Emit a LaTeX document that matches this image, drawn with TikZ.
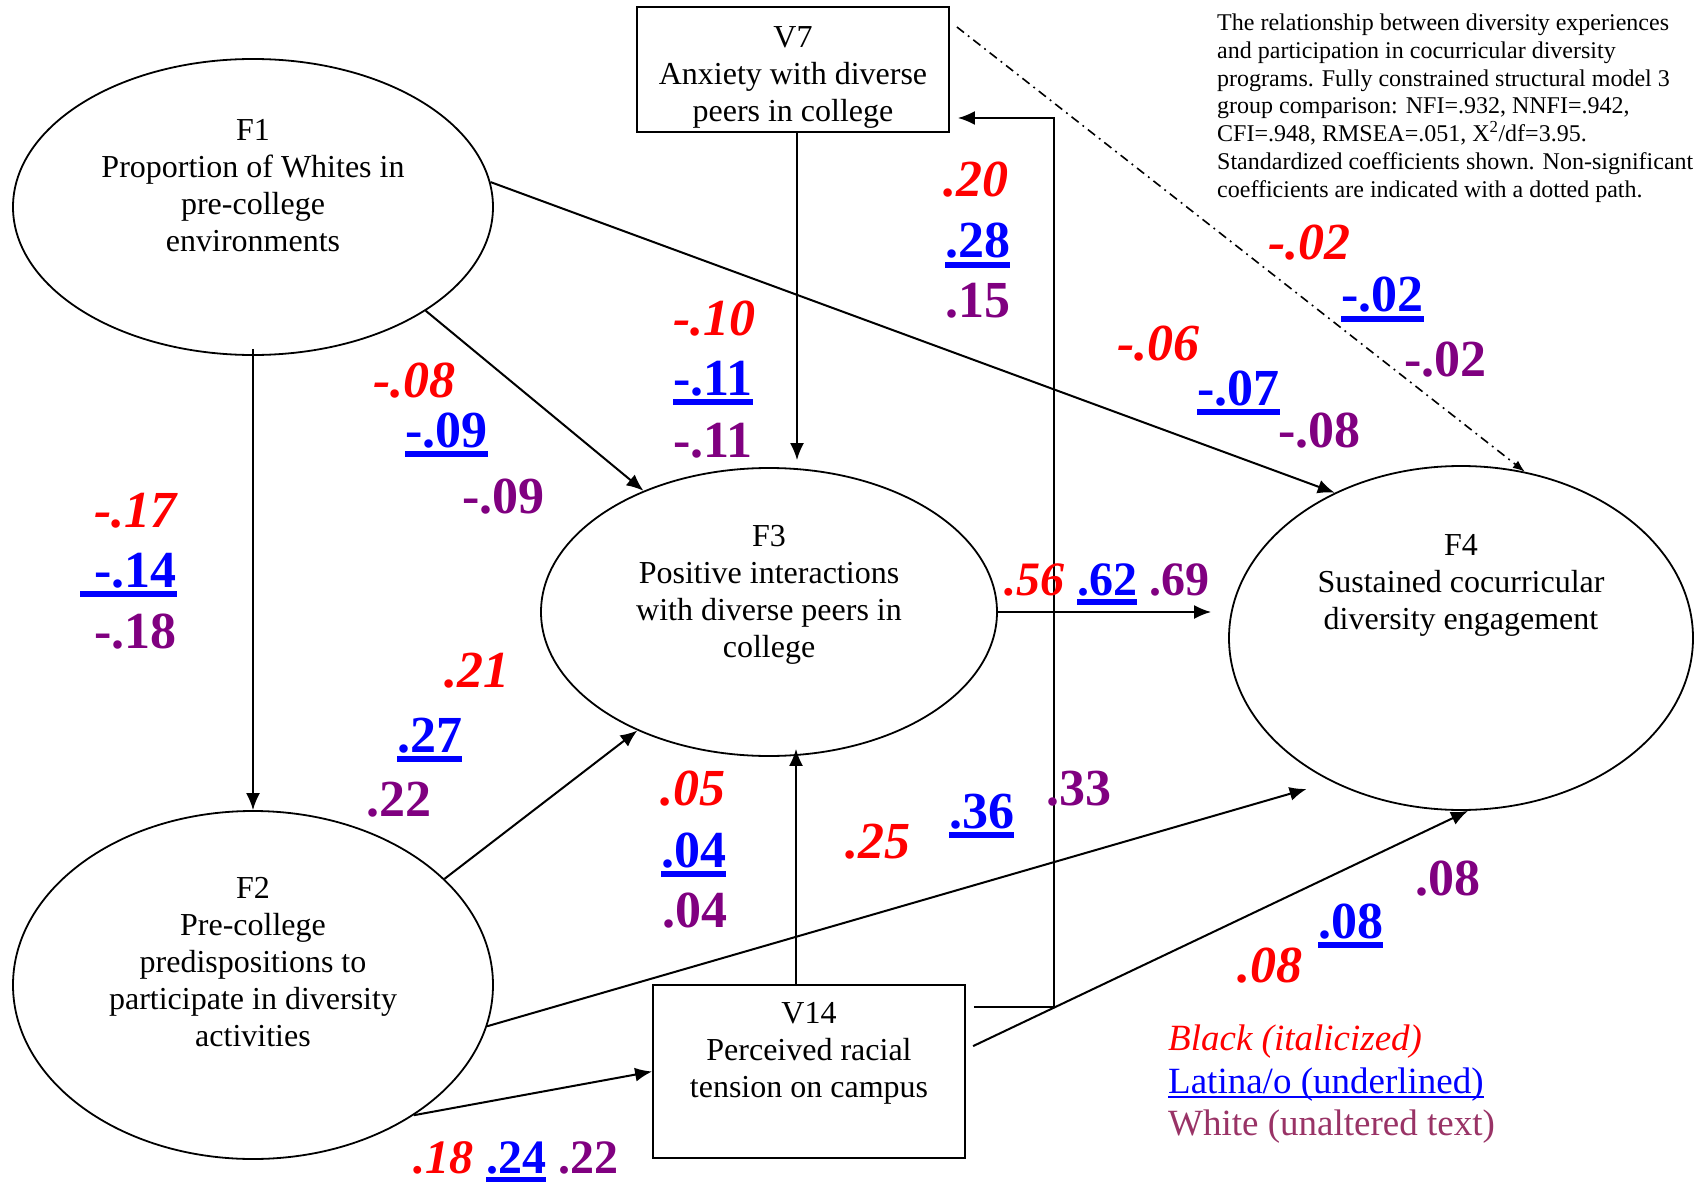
\documentclass[tikz,border=0pt]{standalone}
\usepackage{fontspec}
\setmainfont{Liberation Serif}
\usetikzlibrary{shapes.geometric,arrows.meta}
\definecolor{cred}{RGB}{255,0,0}
\definecolor{cblue}{RGB}{0,0,255}
\definecolor{cpurp}{RGB}{128,0,128}
\definecolor{cmauve}{RGB}{153,51,102}
\newcommand{\ulnum}[1]{\setbox0\hbox{#1}\rlap{\rule[-10pt]{\wd0}{6pt}}\box0}
\newcommand{\ulthin}[1]{\setbox0\hbox{#1}\rlap{\rule[-5pt]{\wd0}{2.2pt}}\box0}
\newcommand{\Bk}[1]{\textcolor{cred}{\textit{#1}}}
\newcommand{\La}[1]{\textcolor{cblue}{\ulnum{#1}}}
\newcommand{\Wh}[1]{\textcolor{cpurp}{#1}}
\begin{document}
\begin{tikzpicture}[x=1pt,y=-1pt,
  ell/.style={draw,ellipse,line width=1.8pt,inner sep=0pt},
  rbox/.style={draw,rectangle,line width=1.8pt,inner sep=0pt},
  ntxt/.style={align=center,inner sep=0pt,font=\fontsize{32}{37}\selectfont},
  conn/.style={line width=2pt,-{Latex[length=17pt,width=14pt]}},
  dconn/.style={line width=1.6pt,dash pattern=on 9pt off 5pt on 1.8pt off 5pt,-{Latex[length=12pt,width=9pt]}},
  big/.style={anchor=base west,inner sep=0pt,font=\fontsize{52}{60}\selectfont\bfseries},
  sml/.style={anchor=base west,inner sep=0pt,font=\fontsize{48}{55}\selectfont\bfseries},
  leg/.style={anchor=base west,inner sep=0pt,font=\fontsize{37}{42}\selectfont},
]
\fill[white] (0,0) rectangle (1703,1182);
\useasboundingbox (0,0) rectangle (1703,1182);

% shapes
\node[ell,minimum width=480pt,minimum height=296pt] (F1) at (253,207) {};
\node[ell,minimum width=480pt,minimum height=348pt] (F2) at (253,985) {};
\node[ell,minimum width=456pt,minimum height=288pt] (F3) at (769,612) {};
\node[ell,minimum width=464pt,minimum height=344pt] (F4) at (1461,638) {};
\node[rbox,minimum width=312pt,minimum height=125pt] (V7) at (793,69.5) {};
\node[rbox,minimum width=312pt,minimum height=173pt] (V14) at (809,1071.5) {};

% texts
\node[ntxt] (F1t) at (253,186) {F1\\Proportion of Whites in\\pre-college\\environments};
\node[ntxt] (F2t) at (253,962) {F2\\Pre-college\\predispositions to\\participate in diversity\\activities};
\node[ntxt] (F3t) at (769,595) {F3\\Positive interactions\\with diverse peers in\\college};
\node[ntxt] (F4t) at (1461,585) {F4\\Sustained cocurricular\\diversity engagement};
\node[ntxt] (V7t) at (793,77) {V7\\Anxiety with diverse\\peers in college};
\node[ntxt] (V14t) at (809,1053) {V14\\Perceived racial\\tension on campus};

% connectors
\draw[conn,shorten <=-7pt] (F1.south) -- (F2.north);
\draw[conn] (F1.-31) -- (F3.136);
\draw[conn] (F1.6) -- (F4.131);
\draw[conn] (F2.29.5) -- (F3.222);
\draw[conn,shorten >=26pt] (F2.-10) -- (F4.228.4);
\draw[conn] (F2.-39) -- (V14.west);
\draw[conn,shorten >=-8pt] ([xshift=-13pt]V14.north) -- ([xshift=-13pt]V14.north |- F3.south);
\draw[conn,shorten >=7pt] ([xshift=4pt]V7.south) -- ([xshift=4pt]V7.south |- F3.north);
\draw[conn,shorten >=17pt] (F3.east) -- (F3.east -| F4.west);
\draw[conn,shorten <=8pt] ([yshift=22pt]V14.east) -- ([xshift=7pt]F4.south);
\draw[conn,shorten <=8pt,shorten >=8pt] ([yshift=64.5pt]V14.east) -- ++(88,0) |- ([yshift=-48.5pt]V7.east);
\draw[dconn] ([yshift=42.5pt,xshift=7pt]V7.east) -- (F4.69.5);

% coefficient labels
\node[big] (a1) at (94,527) {\Bk{-.17}};
\node[big] (a2) at (80,587) {\La{\kern14pt-.14}};
\node[big] (a3) at (94,648) {\Wh{-.18}};

\node[big] (b1) at (373,397) {\Bk{-.08}};
\node[big] (b2) at (405,447) {\La{-.09}};
\node[big] (b3) at (462,513) {\Wh{-.09}};

\node[big] (c1) at (444,687) {\Bk{.21}};
\node[big] (c2) at (397,752) {\La{.27}};
\node[big] (c3) at (366,816) {\Wh{.22}};

\node[big] (d1) at (673,335) {\Bk{-.10}};
\node[big] (d2) at (673,395) {\La{-.11}};
\node[big] (d3) at (673,457) {\Wh{-.11}};

\node[big] (e1) at (943,197) {\Bk{.20}};
\node[big] (e2) at (945,258) {\La{.28}};
\node[big] (e3) at (945,318) {\Wh{.15}};

\node[big] (f1) at (1117,360) {\Bk{-.06}};
\node[big] (f2) at (1197,405) {\La{-.07}};
\node[big] (f3) at (1278,447) {\Wh{-.08}};

\node[big] (g1) at (1268,260) {\Bk{-.02}};
\node[big] (g2) at (1341,312) {\La{-.02}};
\node[big] (g3) at (1404,376) {\Wh{-.02}};

\node[big] (h1) at (660,805) {\Bk{.05}};
\node[big] (h2) at (661,867) {\La{.04}};
\node[big] (h3) at (662,927) {\Wh{.04}};

\node[big] (i1) at (845,858) {\Bk{.25}};
\node[big] (i2) at (949,828) {\La{.36}};
\node[big] (i3) at (1046,805) {\Wh{.33}};

\node[sml] (j1) at (1004,595) {\Bk{.56}};
\node[sml] (j2) at (1077,595) {\La{.62}};
\node[sml] (j3) at (1149,595) {\Wh{.69}};

\node[big] (k1) at (1237,982) {\Bk{.08}};
\node[big] (k2) at (1318,938) {\La{.08}};
\node[big] (k3) at (1415,895) {\Wh{.08}};

\node[sml] (m1) at (413,1173) {\Bk{.18}};
\node[sml] (m2) at (486,1173) {\La{.24}};
\node[sml] (m3) at (558,1173) {\Wh{.22}};

% caption
\node[anchor=north west,align=left,inner sep=0pt,font=\fontsize{24}{27.7}\selectfont] (cap) at (1217,14)
{The relationship between diversity experiences\\and participation in cocurricular diversity\\programs. Fully constrained structural model 3\\group comparison: NFI=.932, NNFI=.942,\\CFI=.948, RMSEA=.051, X\textsuperscript{2}/df=3.95.\\Standardized coefficients shown. Non-significant\\coefficients are indicated with a dotted path.};

% legend
\node[leg,text=cred] (lg1) at (1168,1050) {\textit{Black (italicized)}};
\node[leg,text=cblue] (lg2) at (1168,1093) {\ulthin{Latina/o (underlined)}};
\node[leg,text=cmauve] (lg3) at (1168,1135) {White (unaltered text)};
\end{tikzpicture}
\end{document}
